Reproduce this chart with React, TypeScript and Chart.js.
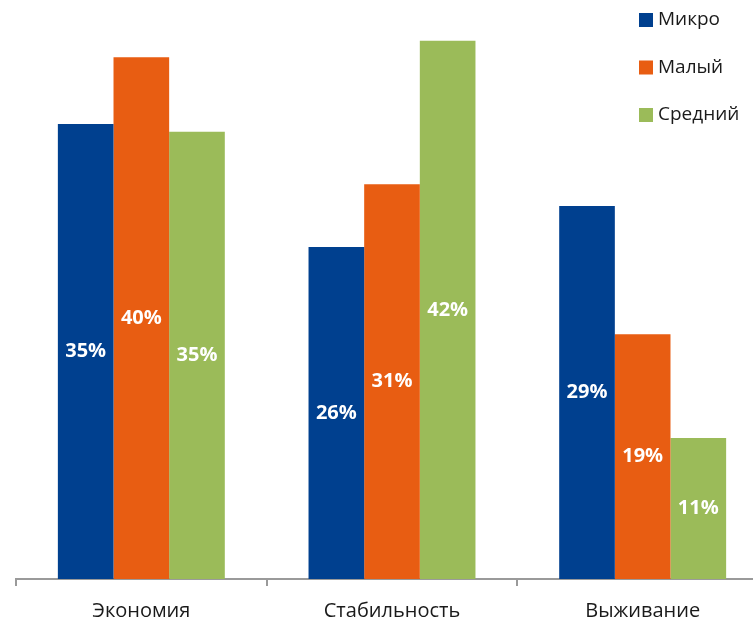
import React, { useEffect, useRef } from "react";
import { Chart, registerables } from "chart.js";

Chart.register(...registerables);

const categories = ["Экономия", "Стабильность", "Выживание"];
const seriesNames = ["Микро", "Малый", "Средний"];
const seriesColors = ["#00408f", "#e85d12", "#9bbb59"];

// bar heights
const microValues = [35.5, 25.9, 29.1];
const smallValues = [40.7, 30.8, 19.1];
const mediumValues = [34.9, 42.0, 11.0];

// printed labels
const microLabels = ["35%", "26%", "29%"];
const smallLabels = ["40%", "31%", "19%"];
const mediumLabels = ["35%", "42%", "11%"];

const FONT = "'Open Sans', 'DejaVu Sans', sans-serif";

const valueLabelPlugin = {
  id: "valueLabels",
  afterDatasetsDraw(chart: any) {
    const ctx = chart.ctx;
    ctx.save();
    ctx.fillStyle = "#ffffff";
    ctx.font = `bold 20px ${FONT}`;
    ctx.textAlign = "center";
    ctx.textBaseline = "middle";
    chart.data.datasets.forEach((ds: any, i: number) => {
      const meta = chart.getDatasetMeta(i);
      meta.data.forEach((el: any, j: number) => {
        const y = (el.y + el.base) / 2;
        ctx.fillText(ds.valueLabels[j], el.x, y);
      });
    });
    ctx.restore();
  },
};

const legendPlugin = {
  id: "sideLegend",
  afterDraw(chart: any) {
    const ctx = chart.ctx;
    ctx.save();
    ctx.font = `19px ${FONT}`;
    ctx.textBaseline = "middle";
    ctx.textAlign = "left";
    const x0 = 639;
    const y0 = 20;
    const step = 47.5;
    const box = 14;
    chart.data.datasets.forEach((ds: any, i: number) => {
      const cy = y0 + i * step;
      ctx.fillStyle = ds.backgroundColor;
      ctx.fillRect(x0, cy - box / 2, box, box);
      ctx.fillStyle = "#1a1a1a";
      ctx.fillText(ds.label, x0 + 19, cy);
    });
    ctx.restore();
  },
};

export default function App() {
  const ref = useRef<HTMLCanvasElement>(null);

  useEffect(() => {
    if (!ref.current) return;
    const valueSets = [microValues, smallValues, mediumValues];
    const labelSets = [microLabels, smallLabels, mediumLabels];
    const chart = new Chart(ref.current, {
      type: "bar",
      data: {
        labels: categories,
        datasets: seriesNames.map((name, i) => ({
          label: name,
          data: valueSets[i],
          backgroundColor: seriesColors[i],
          borderWidth: 0,
          categoryPercentage: 0.666,
          barPercentage: 1,
          valueLabels: labelSets[i],
        })) as any,
      },
      options: {
        responsive: false,
        animation: false,
        layout: { padding: { left: 16, right: 0, top: 15, bottom: 0 } },
        plugins: {
          legend: { display: false },
          tooltip: { enabled: false },
        },
        scales: {
          x: {
            offset: true,
            grid: {
              display: true,
              offset: true,
              drawOnChartArea: false,
              drawTicks: true,
              tickLength: 7,
              color: "#9a9a9a",
              lineWidth: 2,
            },
            border: { display: true, color: "#9a9a9a", width: 2 },
            ticks: {
              color: "#1a1a1a",
              font: { family: FONT, size: 20 },
              padding: 13,
            },
          },
          y: {
            display: false,
            min: 0,
            max: 44,
          },
        },
      },
      plugins: [valueLabelPlugin, legendPlugin],
    });
    return () => chart.destroy();
  }, []);

  return (
    <div
      style={{
        position: "fixed",
        left: 0,
        top: 0,
        width: 753,
        height: 619,
        overflow: "hidden",
        background: "#ffffff",
      }}
    >
      <canvas ref={ref} width={768} height={636} style={{ display: "block" }} />
    </div>
  );
}
